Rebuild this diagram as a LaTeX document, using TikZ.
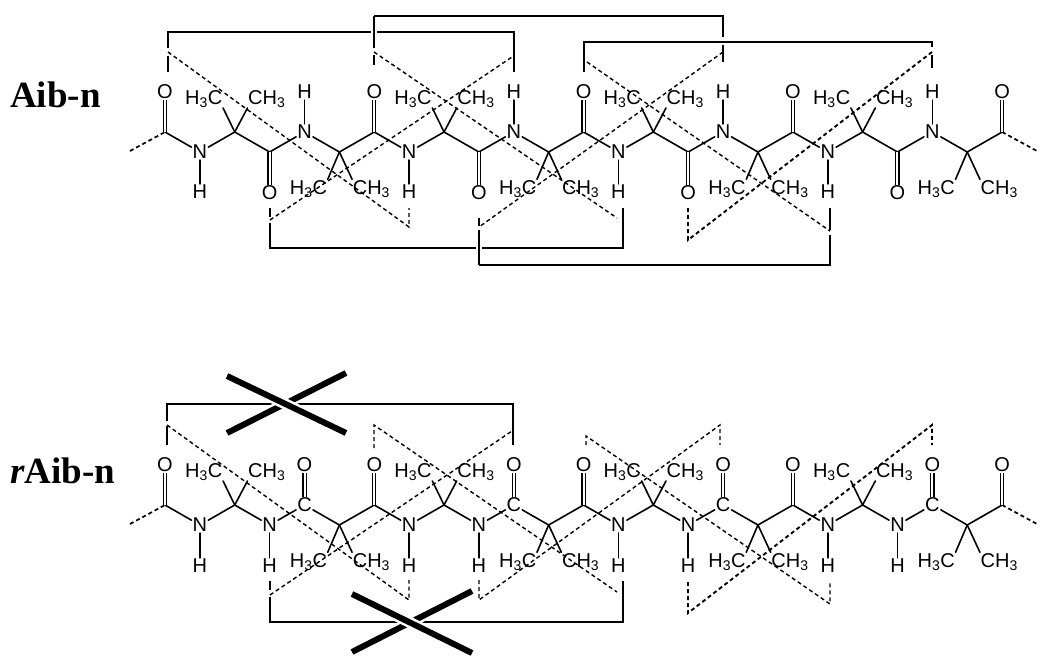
\documentclass[tikz,border=0pt]{standalone}
\usepackage{fontspec}
\setmainfont{Liberation Sans}
\newfontfamily\titlefont{Liberation Serif}
\newcommand{\atomfont}{\fontsize{20}{22}\selectfont}
\newcommand{\bbx}[1]{165+34.88*#1}
\tikzset{
    atom/.style={inner sep=1pt, font=\atomfont},
    methyl/.style={inner sep=0.5pt, anchor=base, font=\atomfont},
    bond/.style={line width=1.6pt, line cap=round},
    dbond/.style={line width=1.2pt, double, double distance=2pt},
    end bond/.style={line width=1.7pt, dash pattern=on 4pt off 3pt},
    link/.style={line width=1.6pt},
    hb/.style={line width=1.4pt, dash pattern=on 4pt off 3pt},
    hbthick/.style={line width=1.9pt, dash pattern=on 4pt off 3pt},
    halo/.style={preaction={draw=white, line width=6pt}},
    cross/.style={line width=6pt, preaction={draw=white, line width=11pt}},
    molname/.style={inner sep=0pt, anchor=base west, font=\titlefont\bfseries\fontsize{37}{40}\selectfont}
}
\begin{document}
\begin{tikzpicture}[x=1pt, y=-1pt]
    \useasboundingbox (0,0) rectangle (1050,667);

    \node[molname] (aibname) at (10,107) {Aib-n};
    \node[molname] (raibname) at (10,483) {\textit{r}Aib-n};

    % upper chain
    \foreach \i in {0,2,3,5,6,8,9,11,12,14,15,17,18,20,21,23,24}
        \coordinate (aib\i) at ({\bbx{\i}},{132+20*mod(\i,2)});
    \foreach \i in {1,4,...,22}
        \node[atom] (aib\i) at ({\bbx{\i}},{132+20*mod(\i,2)}) {N};
    \coordinate (aibs) at (130,151);
    \coordinate (aibe) at (1037,151);
    \draw[end bond] (aibs) -- (aib0);
    \draw[end bond] (aib24) -- (aibe);
    \foreach \i [evaluate=\i as \j using int(\i+1)] in {0,...,23}
        \draw[bond] (aib\i) -- (aib\j);

    \foreach \i/\y in {0/92,6/92,12/92,18/92,24/92,3/193,9/193,15/193,21/193} {
        \node[atom] (aibO\i) at ({\bbx{\i}},\y) {O};
        \draw[dbond] (aib\i) -- (aibO\i);
    }
    \foreach \i/\y in {1/192,7/192,13/192,19/192,4/92,10/92,16/92,22/92} {
        \node[atom] (aibH\i) at ({\bbx{\i}},\y) {H};
        \draw[bond] (aib\i) -- (aibH\i);
    }
    \foreach \i in {2,8,14,20} {
        \node[methyl] (aibL\i) at ({\bbx{\i}-31},104) {H\textsubscript{3}C};
        \node[methyl] (aibR\i) at ({\bbx{\i}+32},104) {CH\textsubscript{3}};
        \draw[bond] (aib\i) -- (aibL\i.south east);
        \draw[bond] (aib\i) -- (aibR\i.south west);
    }
    \foreach \i in {5,11,17,23} {
        \node[methyl] (aibL\i) at ({\bbx{\i}-31},194) {H\textsubscript{3}C};
        \node[methyl] (aibR\i) at ({\bbx{\i}+32},194) {CH\textsubscript{3}};
        \draw[bond] (aib\i) -- (aibL\i.north east);
        \draw[bond] (aib\i) -- (aibR\i.north west);
    }

    % lower chain
    \foreach \i in {0,2,5,6,8,11,12,14,17,18,20,23,24}
        \coordinate (raib\i) at ({\bbx{\i}},{505+20*mod(\i,2)});
    \foreach \i in {1,3,7,9,13,15,19,21}
        \node[atom] (raib\i) at ({\bbx{\i}},{505+20*mod(\i,2)}) {N};
    \foreach \i in {4,10,16,22}
        \node[atom] (raib\i) at ({\bbx{\i}},505) {C};
    \coordinate (raibs) at (130,524);
    \coordinate (raibe) at (1037,524);
    \draw[end bond] (raibs) -- (raib0);
    \draw[end bond] (raib24) -- (raibe);
    \foreach \i [evaluate=\i as \j using int(\i+1)] in {0,...,23}
        \draw[bond] (raib\i) -- (raib\j);

    \foreach \i in {0,4,6,10,12,16,18,22,24} {
        \node[atom] (raibO\i) at ({\bbx{\i}},465) {O};
        \draw[dbond] (raib\i) -- (raibO\i);
    }
    \foreach \i in {1,3,7,9,13,15,19,21} {
        \node[atom] (raibH\i) at ({\bbx{\i}},566) {H};
        \draw[bond] (raib\i) -- (raibH\i);
    }
    \foreach \i in {2,8,14,20} {
        \node[methyl] (raibL\i) at ({\bbx{\i}-31},477) {H\textsubscript{3}C};
        \node[methyl] (raibR\i) at ({\bbx{\i}+32},477) {CH\textsubscript{3}};
        \draw[bond] (raib\i) -- (raibL\i.south east);
        \draw[bond] (raib\i) -- (raibR\i.south west);
    }
    \foreach \i in {5,11,17,23} {
        \node[methyl] (raibL\i) at ({\bbx{\i}-31},567) {H\textsubscript{3}C};
        \node[methyl] (raibR\i) at ({\bbx{\i}+32},567) {CH\textsubscript{3}};
        \draw[bond] (raib\i) -- (raibL\i.north east);
        \draw[bond] (raib\i) -- (raibR\i.north west);
    }

    % upper brackets
    \foreach \p/\x/\y in {a0/168/72,a1/168/56,a2/168/48,a3/168/32,a4/514/32,a5/514/72,a6/168/52,a7/409/227,a8/409/208,
        b0/270/208,b1/270/217,b2/270/223,b3/270/248,b4/623/248,b5/623/208,b6/270/220,b7/512/57,
        c0/374/65,c1/374/55,c2/374/48,c3/374/16,c4/723/16,c5/723/37,c6/723/45,c7/723/62,c8/374/52,c9/617/218,
        d0/479/218,d1/479/226,d2/479/230,d3/479/265,d4/830/265,d5/830/235,d6/830/230,d7/830/208,d8/723/52,d9/479/227,
        e0/584/72,e1/584/42,e2/932/42,e3/932/47,e4/932/55,e5/932/68,e6/932/52,e7/688/240,e8/688/207,e9/587/62,e10/830/231}
        \coordinate (\p) at (\x,\y);

    \draw[link] (a0) -- (a1);
    \draw[link] (a2) -- (a3) -- (a4) -- (a5);
    \draw[link] (b0) -- (b1);
    \draw[link] (b2) -- (b3) -- (b4) -- (b5);
    \draw[link] (c0) -- (c1);
    \draw[link, halo] (c2) -- (c3);
    \draw[link] (c3) -- (c4) -- (c5);
    \draw[link] (e0) -- (e1) -- (e2) -- (e3);
    \draw[link] (e4) -- (e5);
    \draw[link] (c6) -- (c7);
    \draw[link] (d0) -- (d1);
    \draw[link, halo] (d2) -- (d3);
    \draw[link] (d3) -- (d4) -- (d5);
    \draw[link] (d6) -- (d7);

    \draw[hb] (a6) -- (a7) -- (a8);
    \draw[hb] (b6) -- (b7);
    \draw[hb] (c8) -- (c9);
    \draw[hb] (d8) -- (d9);
    \draw[hb] (e9) -- (e10);
    \draw[hbthick] (e6) -- (e7) -- (e8);

    % lower brackets
    \foreach \p/\x/\y in {f0/167/445,f1/167/426,f2/167/421,f3/167/404,f4/513/404,f5/513/445,f6/167/425,f7/409/600,f8/409/580,
        g0/270/581,g1/270/590,g2/270/597,g3/270/622,g4/623/622,g5/623/581,g6/270/595,g7/512/431,
        h0/374/448,h1/374/425,h2/617/592,
        i0/479/580,i1/479/600,i2/720/425,i3/720/445,
        j0/586/445,j1/586/436,j2/830/604,j3/830/581,
        k0/688/582,k1/688/613,k2/932/425,k3/932/445,
        x0/227/376,x1/346/433,x2/227/433,x3/346/373,
        y0/352/594,y1/472/653,y2/352/652,y3/472/591}
        \coordinate (\p) at (\x,\y);

    \draw[link] (f0) -- (f1);
    \draw[link] (f2) -- (f3) -- (f4) -- (f5);
    \draw[link] (g0) -- (g1);
    \draw[link] (g2) -- (g3) -- (g4) -- (g5);

    \draw[cross] (x2) -- (x3);
    \draw[cross] (x0) -- (x1);
    \draw[cross] (y2) -- (y3);
    \draw[cross] (y0) -- (y1);

    \draw[hb] (f6) -- (f7) -- (f8);
    \draw[hb] (g6) -- (g7);
    \draw[hb] (h0) -- (h1) -- (h2);
    \draw[hb] (i0) -- (i1) -- (i2) -- (i3);
    \draw[hb] (j0) -- (j1) -- (j2) -- (j3);
    \draw[hbthick] (k0) -- (k1) -- (k2) -- (k3);
\end{tikzpicture}
\end{document}
